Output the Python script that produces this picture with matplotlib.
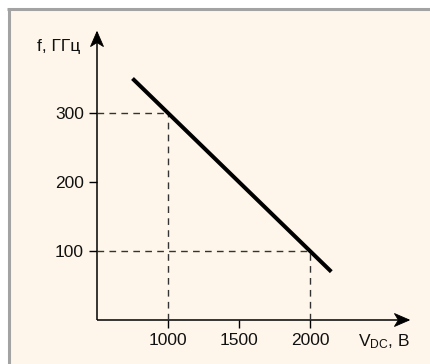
import matplotlib
matplotlib.use("Agg")
import matplotlib.pyplot as plt
from matplotlib.lines import Line2D
from matplotlib.patches import Rectangle, Polygon
from matplotlib import font_manager, transforms

# Data
line_v = [750, 2150]
line_f = [350, 70]
ref_v = [1000, 2000]
ref_f = [300, 100]
x_ticks = [1000, 1500, 2000]
y_ticks = [100, 200, 300]
x_label = "V$_{\\mathrm{DC}}$, В"
y_label = "f, ГГц"

names = {f.name for f in font_manager.fontManager.ttflist}
fam = [n for n in ['Liberation Sans Narrow', 'Liberation Sans', 'DejaVu Sans'] if n in names]
plt.rcParams['font.family'] = fam
plt.rcParams['mathtext.fontset'] = 'custom'
plt.rcParams['mathtext.rm'] = fam[0]
plt.rcParams['mathtext.it'] = fam[0]

W, H = 430, 364
DPI = 100
fig = plt.figure(figsize=(W / DPI, H / DPI), dpi=DPI, facecolor='white')
cream = '#fef6ea'
fig.patches.append(Rectangle((10 / W, 0), 1, (H - 10) / H, transform=fig.transFigure,
                             facecolor=cream, edgecolor='none', zorder=-5))
fig.add_artist(Line2D([8.5 / W, 8.5 / W], [0, (H - 8.5) / H], color='#a3a3a3', lw=2.2,
                      transform=fig.transFigure, solid_capstyle='butt', zorder=-4))
fig.add_artist(Line2D([7.4 / W, 1], [(H - 8.5) / H, (H - 8.5) / H], color='#a3a3a3', lw=2.2,
                      transform=fig.transFigure, solid_capstyle='butt', zorder=-4))

# axes geometry from pixel mapping
x0_px, y0_px = 97, 320
xmin, xmax = 500, 2700
ymin, ymax = 0, 418
pxx = 142 / 1000.0
pxy = 138 / 200.0
ax_w = (xmax - xmin) * pxx
ax_h = (ymax - ymin) * pxy
ax = fig.add_axes([x0_px / W, (H - y0_px) / H, ax_w / W, ax_h / H], zorder=5)
ax.set_facecolor('none')
ax.set_xlim(xmin, xmax)
ax.set_ylim(ymin, ymax)
for s in ax.spines.values():
    s.set_visible(False)

# axis lines with stealth arrowheads
ax.plot([0, 1], [0, 0], transform=ax.transAxes, color='black', lw=1.1, clip_on=False,
        solid_capstyle='butt')
ax.plot([0, 0], [0, 1], transform=ax.transAxes, color='black', lw=1.1, clip_on=False,
        solid_capstyle='butt')
L, HW, N = 15 / DPI, 6.5 / DPI, 11 / DPI
head_x = [(0, 0), (-L, HW), (-N, 0), (-L, -HW)]
head_y = [(0, 0), (HW, -L), (0, -N), (-HW, -L)]
for tip, verts in [((1, 0), head_x), ((0, 1), head_y)]:
    tr = fig.dpi_scale_trans + transforms.ScaledTranslation(tip[0], tip[1], ax.transAxes)
    ax.add_patch(Polygon(verts, closed=True, transform=tr, facecolor='black',
                         edgecolor='black', lw=0.6, clip_on=False, zorder=6))

# reference dashed lines
for v, f in zip(ref_v, ref_f):
    ax.plot([xmin, v], [f, f], color='#333333', lw=1.0, linestyle=(0, (4.8, 3.8)))
    ax.plot([v, v], [ymin, f], color='#333333', lw=1.0, linestyle=(0, (4.8, 3.8)))

# main line
ax.plot(line_v, line_f, color='black', lw=2.9, solid_capstyle='butt')

ax.set_xticks(x_ticks)
ax.set_yticks(y_ticks)
ax.tick_params(axis='both', direction='out', length=5.5, width=1.0, color='black',
               labelsize=12.5, labelcolor='#111111')
ax.tick_params(axis='x', pad=4)
ax.tick_params(axis='y', pad=4)

fig.text(80 / W, 1 - 46 / H, y_label, ha='right', va='center', fontsize=12.5, color='#111111')
fig.text(358 / W, 1 - 342 / H, x_label, ha='left', va='center', fontsize=12.5, color='#111111')

fig.savefig('out.png', dpi=DPI, facecolor='white')
